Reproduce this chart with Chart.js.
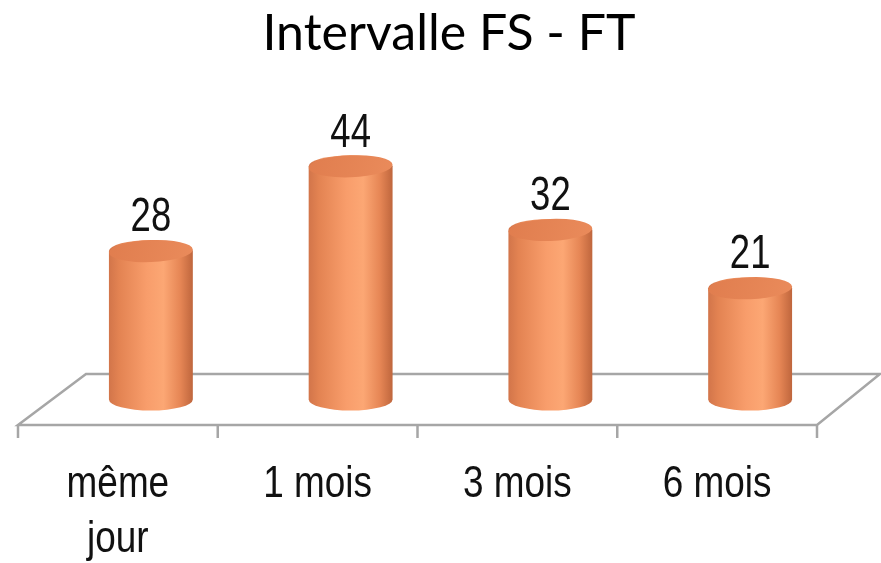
<!DOCTYPE html>
<html lang="fr">
<head>
  <meta charset="UTF-8">
  <title>Intervalle FS - FT</title>
  <script src="https://cdn.jsdelivr.net/npm/chart.js"></script>
  <style>
    html, body { margin: 0; padding: 0; background: #fff; }
    #wrap { width: 881px; height: 563px; }
  </style>
  <script>
    // chart data
    const categories = [['même', 'jour'], '1 mois', '3 mois', '6 mois'];
    const values = [28, 44, 32, 21];
    const titleText = 'Intervalle FS - FT';
  </script>
</head>
<body>
  <div id="wrap"><canvas id="chart"></canvas></div>
  <script>
    // depth of the fake 3d floor
    const depthX = 66;
    const depthY = 51;
    const narrowFont = '"Liberation Sans", Arial, sans-serif';

    // text squeezed horizontally, the original uses a narrow face
    function narrowText(ctx, text, x, y, size, squeeze) {
      ctx.save();
      ctx.font = size + 'px ' + narrowFont;
      ctx.fillStyle = '#111';
      ctx.textAlign = 'center';
      ctx.textBaseline = 'middle';
      ctx.translate(x, y);
      ctx.scale(squeeze, 1);
      ctx.fillText(text, 0, 0);
      ctx.restore();
    }

    const cylinders = {
      id: 'cylinders',
      beforeDatasetsDraw(chart) {
        const ctx = chart.ctx;
        const a = chart.chartArea;
        const n = categories.length;
        const w = (a.right - a.left) / n;
        ctx.save();
        ctx.strokeStyle = '#a6a6a6';
        ctx.lineWidth = 2.5;
        ctx.beginPath();
        ctx.moveTo(a.left, a.bottom);
        ctx.lineTo(a.right, a.bottom);
        ctx.lineTo(a.right + depthX - 3, a.bottom - depthY);
        ctx.lineTo(a.left + depthX + 2, a.bottom - depthY);
        ctx.closePath();
        ctx.stroke();
        // ticks under the front edge
        ctx.beginPath();
        for (let i = 0; i <= n; i++) {
          const x = a.left + i * w;
          ctx.moveTo(x, a.bottom);
          ctx.lineTo(x, a.bottom + 13);
        }
        ctx.stroke();
        ctx.restore();
      },
      afterDatasetsDraw(chart) {
        const ctx = chart.ctx;
        const a = chart.chartArea;
        const meta = chart.getDatasetMeta(0);
        const yScale = chart.scales.y;
        const xScale = chart.scales.x;
        meta.data.forEach((bar, i) => {
          const cx = bar.x + depthX / 2;
          const rx = bar.width / 2;
          const ry = 11;
          const baseY = a.bottom - depthY / 2;
          const topY = yScale.getPixelForValue(values[i]) - depthY / 2;

          ctx.save();
          const g = ctx.createLinearGradient(cx - rx, 0, cx + rx, 0);
          g.addColorStop(0, '#d2754a');
          g.addColorStop(0.12, '#e38352');
          g.addColorStop(0.45, '#f89d6b');
          g.addColorStop(0.65, '#fca774');
          g.addColorStop(0.85, '#e68655');
          g.addColorStop(1, '#bf663d');
          ctx.fillStyle = g;
          ctx.beginPath();
          ctx.moveTo(cx - rx, topY);
          ctx.lineTo(cx - rx, baseY);
          ctx.ellipse(cx, baseY, rx, ry, 0, Math.PI, 0, true);
          ctx.lineTo(cx + rx, topY);
          ctx.ellipse(cx, topY, rx, ry, 0, 0, Math.PI, true);
          ctx.closePath();
          ctx.fill();

          // top cap
          const t = ctx.createLinearGradient(cx - rx, topY - ry, cx + rx, topY + ry);
          t.addColorStop(0, '#e07d4e');
          t.addColorStop(1, '#ea8b5b');
          ctx.fillStyle = t;
          ctx.beginPath();
          ctx.ellipse(cx, topY, rx, ry, -0.04, 0, Math.PI * 2);
          ctx.fill();
          ctx.restore();

          // value label
          narrowText(ctx, String(values[i]), cx, topY - 33, 48, 0.76);

          // category label (one or two lines)
          const lines = [].concat(categories[i]);
          const tx = xScale.getPixelForTick(i);
          lines.forEach((s, j) => {
            narrowText(ctx, s, tx, a.bottom + 60 + j * 55, 45, 0.82);
          });
        });

        // title
        ctx.save();
        ctx.font = '50px Lato, "Open Sans", sans-serif';
        ctx.fillStyle = '#000';
        ctx.textAlign = 'center';
        ctx.textBaseline = 'alphabetic';
        ctx.fillText(titleText, 449, 50);
        ctx.restore();
      }
    };

    new Chart(document.getElementById('chart'), {
      type: 'bar',
      data: {
        labels: categories,
        datasets: [{
          data: values,
          backgroundColor: 'rgba(0,0,0,0)',
          borderWidth: 0,
          barPercentage: 0.84,
          categoryPercentage: 0.5
        }]
      },
      options: {
        responsive: true,
        maintainAspectRatio: false,
        animation: false,
        layout: { padding: { left: 18, right: 64, top: 107, bottom: 0 } },
        plugins: {
          legend: { display: false },
          tooltip: { enabled: false },
          title: { display: false }
        },
        scales: {
          x: {
            grid: { display: false, drawTicks: false },
            border: { display: false },
            ticks: { display: false },
            afterFit(scale) { scale.height = 138; }
          },
          y: {
            display: false,
            min: 0,
            max: 60
          }
        }
      },
      plugins: [cylinders]
    });
  </script>
</body>
</html>
